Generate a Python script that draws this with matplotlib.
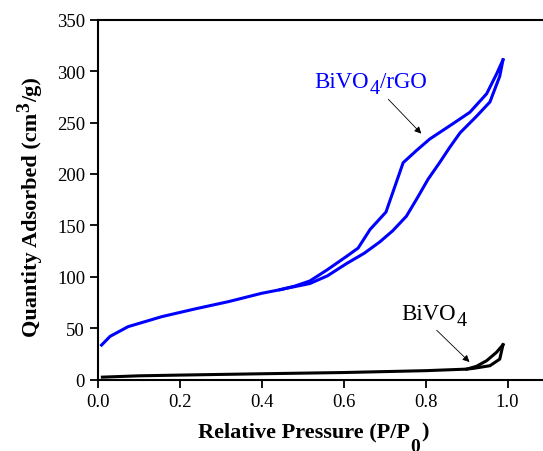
import numpy as np
import matplotlib
matplotlib.use("Agg")
import matplotlib.pyplot as plt

plt.rcParams['font.family'] = ['Liberation Serif', 'DejaVu Serif']

# BiVO4/rGO isotherm: adsorption branch then desorption branch
rgo_ads_p = [0.008, 0.029, 0.073, 0.155, 0.236, 0.318, 0.399, 0.444, 0.48, 0.517,
             0.56, 0.607, 0.65, 0.688, 0.72, 0.753, 0.78, 0.806, 0.834, 0.859,
             0.884, 0.924, 0.957, 0.981, 0.989]
rgo_ads_q = [33.7, 42.2, 51.6, 61.3, 68.8, 75.9, 84.0, 87.5, 90.5, 93.5,
             101.0, 113.0, 123.0, 134.0, 145.0, 159.0, 177.0, 195.0, 211.0, 226.0,
             240.0, 256.0, 270.0, 295.0, 311.0]
rgo_des_p = [0.989, 0.973, 0.949, 0.908, 0.867, 0.81, 0.778, 0.745, 0.703, 0.664,
             0.635, 0.607, 0.56, 0.517, 0.48, 0.444]
rgo_des_q = [311.0, 297.0, 278.0, 260.0, 249.0, 234.0, 223.0, 211.0, 163.0, 146.0,
             128.0, 120.0, 107.0, 96.0, 91.0, 87.5]

# pristine BiVO4 isotherm
bv_ads_p = [0.01, 0.1, 0.2, 0.4, 0.6, 0.8, 0.9, 0.916, 0.957, 0.981, 0.989]
bv_ads_q = [2.5, 3.8, 4.5, 5.8, 7.0, 8.8, 10.3, 11.0, 13.6, 20.0, 34.0]
bv_des_p = [0.989, 0.973, 0.949, 0.924, 0.9]
bv_des_q = [34.0, 26.6, 18.5, 13.0, 10.3]

blue = '#0000ff'

fig = plt.figure(figsize=(5.43, 4.52), dpi=100)
ax = fig.add_axes([0.181, 0.1577, 0.829, 0.7965])

ax.plot(rgo_ads_p, rgo_ads_q, color=blue, lw=2.2)
ax.plot(rgo_des_p, rgo_des_q, color=blue, lw=2.2)
ax.plot(bv_ads_p, bv_ads_q, color='black', lw=2.2)
ax.plot(bv_des_p, bv_des_q, color='black', lw=2.2)

ax.set_xlim(0, 1.1)
ax.set_ylim(0, 350)
ax.set_xticks([0.0, 0.2, 0.4, 0.6, 0.8, 1.0])
ax.set_xticklabels(['0.0', '0.2', '0.4', '0.6', '0.8', '1.0'])
ax.set_yticks(range(0, 351, 50))
ax.tick_params(direction='out', length=6, width=1.3, labelsize=13.5)
ax.spines['right'].set_visible(False)
for s in ['left', 'bottom', 'top']:
    ax.spines[s].set_linewidth(1.5)


def formula(x, y, color):
    # BiVO + dropped 4 subscript, drawn as separate pieces
    t1 = ax.text(x, y, 'BiVO', color=color, fontsize=16.5, va='baseline')
    t2 = ax.annotate('4', xy=(1, 0), xycoords=t1, xytext=(0.3, -4.2),
                     textcoords='offset points', color=color, fontsize=14.5,
                     ha='left', va='bottom')
    return t1, t2


t1, t2 = formula(0.529, 284.4, blue)
ax.annotate('/rGO', xy=(1, 0), xycoords=(t2, t1), xytext=(0.3, 0),
            textcoords='offset points', color=blue, fontsize=16.5, ha='left', va='bottom')
formula(0.741, 58.7, 'black')

ax.annotate('', xy=(0.794, 237.3), xytext=(0.704, 274.6),
            arrowprops=dict(arrowstyle='-|>', color='black', lw=0.6, mutation_scale=10))
ax.annotate('', xy=(0.912, 15.3), xytext=(0.822, 50),
            arrowprops=dict(arrowstyle='-|>', color='black', lw=0.6, mutation_scale=10))

# x axis title with large hanging subscript
lab = dict(fontsize=16, fontweight='bold')
xl = fig.text(198 / 543, 1 - 437 / 452, 'Relative Pressure (P/P', va='baseline', **lab)
xs = ax.annotate('0', xy=(1, 0), xycoords=xl, xytext=(0.5, 2.0), textcoords='offset points',
                 ha='left', va='top', fontsize=14, fontweight='bold', annotation_clip=False)
ax.annotate(')', xy=(1, 0), xycoords=(xs, xl), xytext=(0.5, 0), textcoords='offset points',
            ha='left', va='bottom', annotation_clip=False, **lab)

# y axis title with large superscript
yl = fig.text(32 / 543, 1 - 337 / 452, 'Quantity Adsorbed (cm', rotation=90,
              ha='center', va='bottom', **lab)
ys = ax.annotate('3', xy=(0, 1), xycoords=yl, xytext=(-4, 0.5), textcoords='offset points',
                 ha='left', va='bottom', rotation=90, fontsize=14, fontweight='bold',
                 annotation_clip=False)
ax.annotate('/g)', xy=(0, 1), xycoords=(yl, ys), xytext=(0, 0.5), textcoords='offset points',
            ha='left', va='bottom', rotation=90, annotation_clip=False, **lab)

fig.savefig('out.png', dpi=100)
